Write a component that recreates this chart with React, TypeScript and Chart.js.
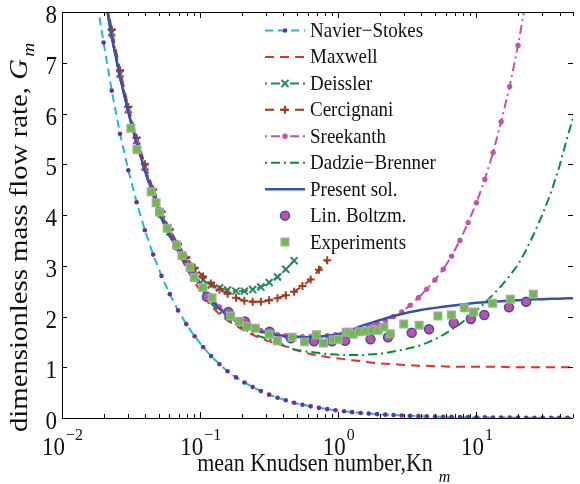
import { useEffect, useRef } from 'react';
import { Chart, registerables } from 'chart.js';

Chart.register(...registerables);

const SERIF = '"Liberation Serif", "Times New Roman", Times, serif';

// ---- data ----
const knGrid = [0.0174, 0.0200, 0.0229, 0.0263, 0.0302, 0.0347, 0.0398, 0.0457, 0.0525, 0.0603, 0.0692, 0.0794, 0.0912, 0.105, 0.120, 0.138, 0.158, 0.182, 0.209, 0.240, 0.275, 0.316, 0.363, 0.417, 0.479, 0.550, 0.631, 0.724, 0.832, 0.955, 1.10, 1.26, 1.45, 1.66, 1.91, 2.19, 2.51, 2.88, 3.31, 3.80, 4.37, 5.01, 5.75, 6.61, 7.59, 8.71, 10.0, 11.5, 13.2, 15.1, 17.4, 20.0, 22.9, 26.3, 30.2, 34.7, 39.8, 45.7, 52.5];

const navierStokes = [8.4, 7.40, 6.45, 5.60, 4.88, 4.25, 3.70, 3.22, 2.80, 2.44, 2.12, 1.85, 1.61, 1.40, 1.22, 1.06, 0.92, 0.80, 0.70, 0.61, 0.53, 0.46, 0.40, 0.35, 0.30, 0.26, 0.23, 0.20, 0.174, 0.152, 0.132, 0.115, 0.100, 0.087, 0.076, 0.066, 0.058, 0.050, 0.044, 0.038, 0.033, 0.029, 0.025, 0.022, 0.019, 0.017, 0.0145, 0.0126, 0.011, 0.0096, 0.0083, 0.0073, 0.0063, 0.0055, 0.0048, 0.0042, 0.0036, 0.0032, 0.0028];

const maxwell = [9.7, 8.45, 7.50, 6.70, 6.00, 5.40, 4.86, 4.37, 3.92, 3.57, 3.28, 2.95, 2.68, 2.42, 2.20, 2.05, 1.92, 1.82, 1.72, 1.64, 1.57, 1.51, 1.46, 1.41, 1.35, 1.30, 1.26, 1.23, 1.20, 1.18, 1.16, 1.14, 1.12, 1.10, 1.08, 1.07, 1.06, 1.05, 1.04, 1.03, 1.03, 1.02, 1.02, 1.01, 1.01, 1.01, 1.01, 1.01, 1.01, 1.01, 1.00, 1.00, 1.00, 1.00, 1.00, 1.00, 1.00, 1.00, 1.00];

const deissler = [9.8, 8.55, 7.60, 6.78, 6.08, 5.47, 4.95, 4.45, 4.02, 3.67, 3.38, 3.12, 2.90, 2.72, 2.62, 2.56, 2.52, 2.50, 2.50, 2.53, 2.58, 2.67, 2.78, 2.93, 3.10];

const cercignani = [9.9, 8.6, 7.65, 6.85, 6.13, 5.52, 5.00, 4.50, 4.06, 3.71, 3.42, 3.16, 2.96, 2.79, 2.65, 2.53, 2.45, 2.37, 2.31, 2.29, 2.29, 2.32, 2.36, 2.42, 2.49, 2.60, 2.73, 2.92, 3.11];

const sreekanth = [9.75, 8.5, 7.53, 6.74, 6.05, 5.44, 4.90, 4.42, 3.97, 3.62, 3.35, 3.08, 2.84, 2.60, 2.37, 2.19, 2.05, 1.94, 1.85, 1.78, 1.72, 1.68, 1.64, 1.62, 1.61, 1.60, 1.60, 1.61, 1.62, 1.64, 1.67, 1.71, 1.76, 1.81, 1.86, 1.92, 2.00, 2.09, 2.22, 2.37, 2.54, 2.72, 2.93, 3.19, 3.50, 3.85, 4.24, 4.70, 5.23, 5.84, 6.53, 7.34, 8.25];

const dadzieBrenner = [9.7, 8.45, 7.50, 6.71, 6.02, 5.41, 4.87, 4.38, 3.93, 3.58, 3.30, 3.02, 2.77, 2.49, 2.26, 2.09, 1.95, 1.85, 1.75, 1.67, 1.60, 1.55, 1.50, 1.42, 1.35, 1.32, 1.30, 1.28, 1.26, 1.25, 1.24, 1.24, 1.24, 1.25, 1.26, 1.28, 1.31, 1.34, 1.38, 1.42, 1.48, 1.55, 1.64, 1.74, 1.85, 1.98, 2.12, 2.27, 2.43, 2.60, 2.80, 3.02, 3.31, 3.65, 4.02, 4.45, 4.95, 5.55, 6.1];

const presentSol = [9.7, 8.45, 7.50, 6.72, 6.03, 5.42, 4.88, 4.40, 3.95, 3.60, 3.33, 3.06, 2.82, 2.57, 2.33, 2.15, 2.02, 1.91, 1.83, 1.76, 1.70, 1.67, 1.63, 1.61, 1.60, 1.59, 1.59, 1.60, 1.62, 1.64, 1.68, 1.74, 1.81, 1.86, 1.91, 1.96, 2.01, 2.05, 2.09, 2.12, 2.15, 2.17, 2.19, 2.21, 2.23, 2.25, 2.27, 2.28, 2.29, 2.30, 2.31, 2.32, 2.33, 2.34, 2.34, 2.35, 2.35, 2.36, 2.36];

const linBoltzKn = [0.112, 0.160, 0.211, 0.318, 0.454, 0.667, 0.902, 1.12, 1.71, 2.29, 3.40, 4.54, 6.85, 9.11, 11.4, 17.2, 22.9];
const linBoltzG = [2.39, 2.09, 1.90, 1.70, 1.57, 1.51, 1.51, 1.52, 1.55, 1.59, 1.68, 1.75, 1.87, 1.95, 2.03, 2.18, 2.29];

const expKn = [0.0315, 0.0349, 0.0442, 0.0480, 0.0507, 0.0578, 0.0674, 0.0740, 0.0844, 0.0906, 0.1047, 0.122, 0.166, 0.192, 0.218, 0.251, 0.316, 0.362, 0.464, 0.570, 0.694, 0.782, 0.918, 0.997, 1.14, 1.19, 1.28, 1.41, 1.58, 1.76, 1.94, 2.14, 2.38, 2.98, 3.85, 5.26, 6.59, 8.17, 9.52, 13.1, 17.6, 25.8];
const expG = [5.71, 5.29, 4.46, 4.24, 4.06, 3.74, 3.41, 3.20, 2.97, 2.77, 2.57, 2.37, 2.01, 1.90, 1.81, 1.77, 1.65, 1.52, 1.59, 1.50, 1.64, 1.48, 1.54, 1.55, 1.69, 1.69, 1.65, 1.70, 1.71, 1.73, 1.73, 1.79, 1.66, 1.85, 1.83, 2.01, 2.03, 2.17, 2.09, 2.26, 2.34, 2.44];

const seriesNames = ['Navier\u2212Stokes', 'Maxwell', 'Deissler', 'Cercignani', 'Sreekanth', 'Dadzie\u2212Brenner', 'Present sol.', 'Lin. Boltzm.', 'Experiments'];

const xMajorTicks = [0.01, 0.1, 1, 10];
const xTickExponents = ['\u22122', '\u22121', '0', '1'];
const yTicks = [0, 1, 2, 3, 4, 5, 6, 7, 8];
const xTitle = 'mean Knudsen number,Kn';
const xTitleSub = 'm';
const yTitle = 'dimensionless mass flow rate, ';
const yTitleSym = 'G';
const yTitleSub = 'm';

// ---- styles ----
type Style = {
  color?: string; dash?: number[]; width?: number; line: boolean;
  marker?: string | null; mColor?: string; mBorder?: string; mRadius?: number; mBorderWidth?: number;
};
const styles: Style[] = [
  { color: '#1dbdc6', dash: [8, 5], width: 2, line: true, marker: 'circle', mColor: '#6a2fa0', mRadius: 2.3 },
  { color: '#f52828', dash: [9, 6], width: 2, line: true, marker: null },
  { color: '#25875a', dash: [9, 4, 2, 4], width: 2, line: true, marker: 'crossRot', mColor: '#25875a', mRadius: 5, mBorderWidth: 2 },
  { color: '#a3381e', dash: [9, 6], width: 2, line: true, marker: 'cross', mColor: '#a3381e', mRadius: 4, mBorderWidth: 2 },
  { color: '#c64fac', dash: [9, 4, 2, 4], width: 2, line: true, marker: 'circle', mColor: '#c64fac', mRadius: 2.7 },
  { color: '#0b8a3c', dash: [9, 4, 2, 4], width: 2, line: true, marker: null },
  { color: '#3553a8', dash: [], width: 2.5, line: true, marker: null },
  { line: false, marker: 'circle', mColor: '#c150a6', mBorder: '#3553a8', mRadius: 4.5, mBorderWidth: 1.5 },
  { line: false, marker: 'rect', mColor: '#66bf3f', mBorder: '#a6a6a6', mRadius: 5.3, mBorderWidth: 1.5 },
];

const onGrid = (arr: number[]) => arr.map((y, i) => ({ x: knGrid[i], y }));
const pairs = (xs: number[], ys: number[]) => xs.map((x, i) => ({ x, y: ys[i] }));

const seriesData = [
  onGrid(navierStokes),
  onGrid(maxwell),
  onGrid(deissler),
  onGrid(cercignani),
  onGrid(sreekanth),
  onGrid(dadzieBrenner),
  onGrid(presentSol),
  pairs(linBoltzKn, linBoltzG),
  pairs(expKn, expG),
];

const VS = 1.1; // vertical stretch of horizontal text seen in the reference

function drawMarker(ctx: CanvasRenderingContext2D, s: Style, x: number, y: number) {
  const r = s.mRadius || 3;
  ctx.save();
  ctx.setLineDash([]);
  ctx.beginPath();
  if (s.marker === 'circle') {
    ctx.arc(x, y, r, 0, Math.PI * 2);
    ctx.fillStyle = s.mColor!;
    ctx.fill();
    if (s.mBorder) { ctx.lineWidth = s.mBorderWidth || 1; ctx.strokeStyle = s.mBorder; ctx.stroke(); }
  } else if (s.marker === 'rect') {
    const h = r * Math.SQRT1_2;
    ctx.rect(x - h, y - h, 2 * h, 2 * h);
    ctx.fillStyle = s.mColor!;
    ctx.fill();
    if (s.mBorder) { ctx.lineWidth = s.mBorderWidth || 1; ctx.strokeStyle = s.mBorder; ctx.stroke(); }
  } else if (s.marker === 'crossRot') {
    const h = r * Math.SQRT1_2;
    ctx.moveTo(x - h, y - h); ctx.lineTo(x + h, y + h);
    ctx.moveTo(x - h, y + h); ctx.lineTo(x + h, y - h);
    ctx.lineWidth = s.mBorderWidth || 1; ctx.strokeStyle = s.mColor!; ctx.stroke();
  } else if (s.marker === 'cross') {
    ctx.moveTo(x - r, y); ctx.lineTo(x + r, y);
    ctx.moveTo(x, y - r); ctx.lineTo(x, y + r);
    ctx.lineWidth = s.mBorderWidth || 1; ctx.strokeStyle = s.mColor!; ctx.stroke();
  }
  ctx.restore();
}

function text(ctx: CanvasRenderingContext2D, t: string, x: number, y: number) {
  ctx.save();
  ctx.translate(x, y);
  ctx.scale(1, VS);
  ctx.fillText(t, 0, 0);
  ctx.restore();
}

const decorPlugin = {
  id: 'decor',
  afterDraw(chart: any) {
    const { ctx, chartArea: a } = chart;
    const xs = chart.scales.x;
    const ys = chart.scales.y;
    ctx.save();
    ctx.setLineDash([]);
    ctx.strokeStyle = '#000';
    ctx.lineWidth = 1;
    // frame (left, bottom, top; right edge lies at the canvas border)
    ctx.beginPath();
    ctx.moveTo(a.right, a.top + 0.5);
    ctx.lineTo(a.left + 0.5, a.top + 0.5);
    ctx.lineTo(a.left + 0.5, a.bottom + 0.5);
    ctx.lineTo(a.right, a.bottom + 0.5);
    ctx.stroke();
    // inner ticks
    ctx.beginPath();
    for (const d of xMajorTicks) {
      for (let m = 1; m <= 9; m++) {
        const v = d * m;
        if (v > xs.max) break;
        const px = Math.round(xs.getPixelForValue(v)) + 0.5;
        const len = m === 1 ? 6 : 4;
        ctx.moveTo(px, a.bottom); ctx.lineTo(px, a.bottom - len);
        ctx.moveTo(px, a.top); ctx.lineTo(px, a.top + len);
      }
    }
    for (const v of yTicks) {
      const py = Math.round(ys.getPixelForValue(v)) + 0.5;
      ctx.moveTo(a.left, py); ctx.lineTo(a.left + 5, py);
      ctx.moveTo(a.right, py); ctx.lineTo(a.right - 5, py);
    }
    ctx.stroke();

    ctx.fillStyle = '#111';
    ctx.textBaseline = 'alphabetic';
    // y tick labels
    ctx.font = `23px ${SERIF}`;
    ctx.textAlign = 'right';
    for (const v of yTicks) {
      const py = ys.getPixelForValue(v);
      text(ctx, String(v), a.left - 5, py + 11);
    }
    // x tick labels with superscripts
    ctx.textAlign = 'left';
    xMajorTicks.forEach((v, i) => {
      const px = xs.getPixelForValue(v);
      ctx.font = `23px ${SERIF}`;
      const wb = ctx.measureText('10').width;
      ctx.font = `16px ${SERIF}`;
      const we = ctx.measureText(xTickExponents[i]).width;
      const x0 = px - (wb + we) / 2;
      ctx.font = `23px ${SERIF}`;
      text(ctx, '10', x0, 455);
      ctx.font = `16px ${SERIF}`;
      text(ctx, xTickExponents[i], x0 + wb + 1, 440);
    });
    // x title
    ctx.font = `22px ${SERIF}`;
    const wt = ctx.measureText(xTitle).width;
    const tx = 315 - wt / 2;
    text(ctx, xTitle, tx, 471);
    ctx.font = `italic 16px ${SERIF}`;
    text(ctx, xTitleSub, tx + wt + 6, 482);
    // y title (rotated, stretched along its length)
    ctx.save();
    ctx.translate(27, 432);
    ctx.rotate(-Math.PI / 2);
    ctx.scale(1.15, 1);
    ctx.font = `25px ${SERIF}`;
    ctx.fillText(yTitle, 0, 0);
    let w = ctx.measureText(yTitle).width;
    ctx.font = `italic 25px ${SERIF}`;
    ctx.fillText(yTitleSym, w, 0);
    w += ctx.measureText(yTitleSym).width;
    ctx.font = `italic 17px ${SERIF}`;
    ctx.fillText(yTitleSub, w + 2, 7);
    ctx.restore();

    // legend
    const lx0 = 265, lx1 = 305, tx0 = 310;
    const base0 = 37, step = 26.45;
    seriesNames.forEach((name, i) => {
      const s = styles[i];
      const by = base0 + i * step;
      const ly = by - 6.5;
      if (s.line) {
        ctx.save();
        ctx.beginPath();
        ctx.strokeStyle = s.color!;
        ctx.lineWidth = s.width!;
        const dash = s.dash || [];
        ctx.setLineDash(dash);
        if (dash.length === 4) ctx.lineDashOffset = dash[0] + dash[1];
        ctx.moveTo(lx0, ly); ctx.lineTo(lx1, ly);
        ctx.stroke();
        ctx.restore();
      }
      if (s.marker) drawMarker(ctx, s, (lx0 + lx1) / 2, ly);
      ctx.fillStyle = '#111';
      ctx.font = `19px ${SERIF}`;
      ctx.textAlign = 'left';
      text(ctx, name, tx0, by);
    });
    ctx.restore();
  },
};

export default function App() {
  const ref = useRef<HTMLCanvasElement>(null);
  useEffect(() => {
    document.body.style.margin = '0';
    const datasets = seriesData.map((data, i) => {
      const s = styles[i];
      return {
        label: seriesNames[i],
        data,
        showLine: s.line,
        borderColor: s.color || 'transparent',
        borderWidth: s.width || 0,
        borderDash: s.dash || [],
        tension: 0,
        fill: false,
        pointStyle: (s.marker || 'circle') as any,
        pointRadius: s.marker ? s.mRadius : 0,
        pointHoverRadius: s.marker ? s.mRadius : 0,
        pointBackgroundColor: s.mColor || 'transparent',
        pointBorderColor: s.mBorder || s.mColor || 'transparent',
        pointBorderWidth: s.mBorderWidth || 0,
        order: seriesNames.length - 1 - i,
      };
    });
    const chart = new Chart(ref.current!, {
      type: 'line',
      data: { datasets: datasets as any },
      options: {
        responsive: false,
        animation: false,
        events: [],
        layout: { padding: { top: 12, left: 0, right: 0, bottom: 0 } },
        plugins: { legend: { display: false }, tooltip: { enabled: false } },
        scales: {
          x: {
            type: 'logarithmic', min: 0.01, max: 50,
            grid: { display: false, drawTicks: false }, border: { display: false },
            ticks: { display: false },
            afterFit: (s: any) => { s.height = 66; },
          },
          y: {
            type: 'linear', min: 0, max: 8,
            grid: { display: false, drawTicks: false }, border: { display: false },
            ticks: { display: false },
            afterFit: (s: any) => { s.width = 62; },
          },
        },
      } as any,
      plugins: [decorPlugin],
    });
    return () => chart.destroy();
  }, []);
  return (
    <div style={{ width: 580, height: 484 }}>
      <canvas ref={ref} width={580} height={484} style={{ display: 'block' }} />
    </div>
  );
}
